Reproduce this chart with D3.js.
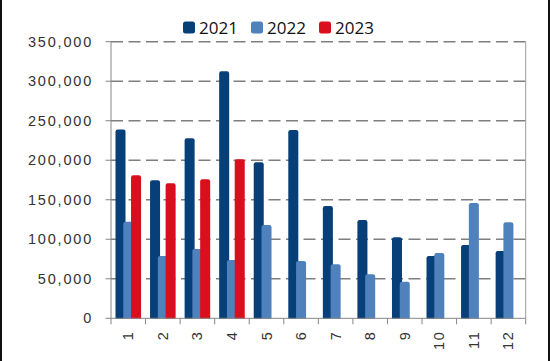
<!DOCTYPE html>
<html>
<head>
<meta charset="utf-8">
<script src="https://cdnjs.cloudflare.com/ajax/libs/d3/7.8.5/d3.min.js"></script>
<style>
    body { margin: 0; background: #fff; }
    #chart { width: 550px; height: 361px; }
    .tick-label { font-family: "Liberation Sans", Arial, sans-serif; font-size: 14.5px; letter-spacing: 1.8px; fill: #333; }
    .legend-text { font-family: "Open Sans", sans-serif; font-size: 17px; fill: #111; }
</style>
</head>
<body>
<div id="chart"></div>
<script>
// data
const months = ["1", "2", "3", "4", "5", "6", "7", "8", "9", "10", "11", "12"];
const years = ["2021", "2022", "2023"];
const y2021 = [239000, 174600, 227800, 312500, 197400, 238300, 142100, 124400, 102500, 78800, 92700, 85200];
const y2022 = [122200, 78800, 87700, 73800, 118100, 72500, 68300, 55700, 46300, 82600, 145900, 121500];
const y2023 = [181000, 170800, 175900, 201200];
const yTicks = [0, 50000, 100000, 150000, 200000, 250000, 300000, 350000];

class BarChart {

    constructor(parentElement) {
        this.parentElement = parentElement;
        this.colors = ["#073f78", "#4f81bd", "#d90f1e"];
        this.initVis();
    }

    initVis() {
        let vis = this;

        vis.margin = {top: 41.7, right: 24.3, bottom: 42.7, left: 111};
        vis.width = 550 - vis.margin.left - vis.margin.right;
        vis.height = 361 - vis.margin.top - vis.margin.bottom;

        vis.root = d3.select("#" + vis.parentElement).append("svg")
            .attr("width", 550)
            .attr("height", 361);

        // side borders of the picture
        vis.root.append("line").attr("x1", 1).attr("x2", 1).attr("y1", 0).attr("y2", 361)
            .attr("stroke", "#111").attr("stroke-width", 2);
        vis.root.append("line").attr("x1", 549).attr("x2", 549).attr("y1", 0).attr("y2", 361)
            .attr("stroke", "#111").attr("stroke-width", 2);

        vis.svg = vis.root.append("g")
            .attr("transform", "translate(" + vis.margin.left + "," + vis.margin.top + ")");

        vis.x = d3.scaleBand().domain(months).range([0, vis.width]).padding(0);
        let b = vis.x.bandwidth();
        vis.xInner = d3.scalePoint().domain(years).range([b * 0.13, b * 0.58]);
        vis.barWidth = b * 0.29;

        vis.y = d3.scaleLinear().domain([0, 350000]).range([vis.height, 0]);

        vis.legend();
        vis.updateVis();
    }

    legend() {
        let vis = this;
        let lg = vis.root.append("g").attr("transform", "translate(183,20)");
        years.forEach((yr, i) => {
            let g = lg.append("g").attr("transform", `translate(${i * 68},0)`);
            g.append("rect").attr("width", 12).attr("height", 12).attr("y", 1.5).attr("rx", 2.5)
                .attr("fill", vis.colors[i]);
            g.append("text").attr("class", "legend-text").attr("x", 16).attr("y", 13.5).text(yr);
        });
    }

    updateVis() {
        let vis = this;

        // dashed gridlines
        vis.svg.append("g").selectAll("line.grid")
            .data(yTicks.filter(d => d > 0))
            .enter().append("line")
            .attr("class", "grid")
            .attr("x1", 0).attr("x2", vis.width)
            .attr("y1", d => vis.y(d)).attr("y2", d => vis.y(d))
            .attr("stroke", "#7f7f7f").attr("stroke-width", 1.5)
            .attr("stroke-dasharray", "12,5.5");

        // right edge of plot
        vis.svg.append("line").attr("x1", vis.width).attr("x2", vis.width)
            .attr("y1", 0).attr("y2", vis.height)
            .attr("stroke", "#9a9a9a").attr("stroke-width", 1);

        // bars, 2021 first so later years sit on top
        let series = [y2021, y2022, y2023];
        series.forEach((vals, s) => {
            vis.svg.append("g").selectAll("rect")
                .data(vals.map((v, i) => ({month: months[i], value: v})))
                .enter().append("rect")
                .attr("x", d => vis.x(d.month) + vis.xInner(years[s]))
                .attr("y", d => vis.y(d.value))
                .attr("width", vis.barWidth)
                .attr("height", d => vis.height - vis.y(d.value) + 2)
                .attr("rx", 2.2)
                .attr("fill", vis.colors[s]);
        });

        // cover the rounded bottoms below the axis
        vis.svg.append("rect").attr("x", 0).attr("y", vis.height + 0.5)
            .attr("width", vis.width).attr("height", 3).attr("fill", "#fff");

        // y axis
        let yAxis = vis.svg.append("g");
        yAxis.append("line").attr("x1", 0).attr("x2", 0).attr("y1", 0).attr("y2", vis.height)
            .attr("stroke", "#868686");
        yAxis.selectAll("line.t").data(yTicks).enter().append("line")
            .attr("x1", -5.5).attr("x2", 0)
            .attr("y1", d => vis.y(d)).attr("y2", d => vis.y(d))
            .attr("stroke", "#868686");
        yAxis.selectAll("text").data(yTicks).enter().append("text")
            .attr("class", "tick-label")
            .attr("x", -18)
            .attr("y", d => vis.y(d))
            .attr("dy", "0.35em")
            .attr("text-anchor", "end")
            .text(d => d3.format(",")(d));

        // x axis
        let xAxis = vis.svg.append("g").attr("transform", `translate(0,${vis.height})`);
        xAxis.append("line").attr("x1", 0).attr("x2", vis.width).attr("stroke", "#868686");
        xAxis.selectAll("line.t").data(months.concat(["end"])).enter().append("line")
            .attr("x1", (d, i) => i * vis.x.step()).attr("x2", (d, i) => i * vis.x.step())
            .attr("y1", 0).attr("y2", 6)
            .attr("stroke", "#868686");
        xAxis.selectAll("text").data(months).enter().append("text")
            .attr("class", "tick-label")
            .attr("transform", d => `translate(${vis.x(d) + vis.x.bandwidth() / 2},${12})rotate(-90)`)
            .attr("dy", "0.35em")
            .attr("text-anchor", "end")
            .text(d => d);
    }
}

let chart = new BarChart("chart");
</script>
</body>
</html>
